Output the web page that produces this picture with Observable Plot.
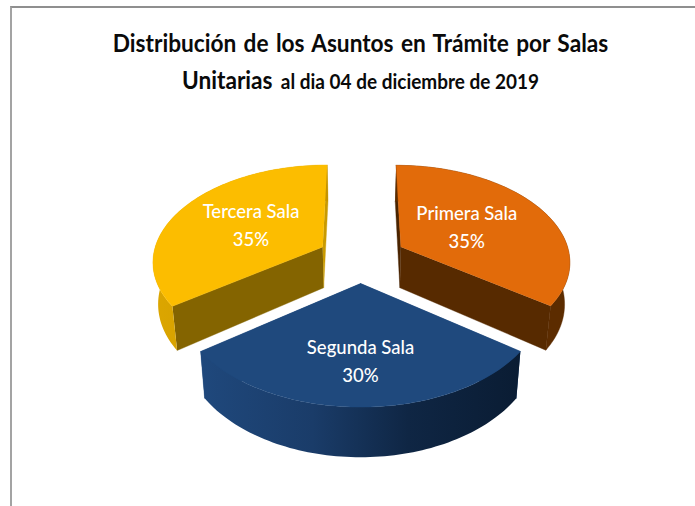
<!DOCTYPE html>
<html lang="es">
<head>
<meta charset="utf-8">
<script src="https://cdn.jsdelivr.net/npm/d3@7"></script>
<script src="https://cdn.jsdelivr.net/npm/@observablehq/plot@0.6"></script>
<style>
  html, body { margin: 0; padding: 0; background: #fff; overflow: hidden; }
  #frame { position: absolute; left: 10px; top: 6px; width: 685px; height: 500px; box-sizing: border-box;
           border-left: 2px solid #a3a3a3; border-top: 2px solid #8f8f8f; pointer-events: none; }
  #title { height: 100px; box-sizing: border-box; padding-top: 27px; padding-left: 26px; text-align: center;
           font-family: Lato, sans-serif; color: #0a0a0a; font-weight: 700; position: relative; }
  #title .l1 { font-size: 24.5px; line-height: 32px; word-spacing: 2px; transform: scaleX(0.925); white-space: nowrap; }
  #title .l2 { font-size: 24.5px; line-height: 32px; margin-top: 5px; transform: scaleX(0.925); white-space: nowrap; }
  #title .l2 small { font-size: 20.5px; font-weight: 700; margin-left: 3px; }
  #chart svg { display: block; }
</style>
</head>
<body>
<div id="frame"></div>
<div id="title">
  <div class="l1">Distribución de los Asuntos en Trámite por Salas</div>
  <div class="l2">Unitarias <small>al dia 04 de diciembre de 2019</small></div>
</div>
<div id="chart"></div>
<script>
// ---- Data ----
const salas = ["Primera Sala", "Segunda Sala", "Tercera Sala"];
const shares = [35, 30, 35];

// ---- Appearance ----
const topColors = ["#e26b0a", "#1f497d", "#fcbd00"];
const radialColors = ["#572a00", "#1f497d", "#846400"];
const arcFills = ["#5c2c00", "url(#segWall)", "url(#terWall)"];
const sliverColors = ["#4a2400", "#1f497d", "#c99a00"];

// Ground-plane displacement and radius of each exploded slice, and where its label sits along the bisector
const explode = [[0.235, -0.134], [0, 0.23], [-0.22, -0.134]];
const sliceRadius = [0.97, 1, 0.975];
const labelRadius = [0.45, 0.67, 0.49];

// Perspective view of the tilted disc
const view = {cx: 360, cy: 259.5, a: 175, b: 99, k: 0.14, depth: 41.5, shrink: 0.975};
const project = ([X, Y]) => {
  const w = 1 - view.k * Y;
  return {x: view.cx + view.a * X / w, y: view.cy + view.b * Y / w, w};
};
const lower = (p) => ({x: view.cx + (p.x - view.cx) * view.shrink, y: p.y + view.depth / p.w});

const polygon = (points, fill) =>
  Plot.line(points, {x: "x", y: "y", fill, stroke: fill.startsWith("url") ? "none" : fill, strokeWidth: 0.4, curve: "linear"});

// Angles come straight from the shares via d3.pie (clockwise from the back of the disc)
const arcs = d3.pie().sort(null)(shares);

const marks = [
  () => {
    const defs = d3.create("svg:defs");
    const gradient = (id, stops) => {
      const g = defs.append("linearGradient").attr("id", id).attr("x1", 0).attr("x2", 1).attr("y1", 0).attr("y2", 0);
      stops.forEach(([o, c]) => g.append("stop").attr("offset", o).attr("stop-color", c));
    };
    gradient("segWall", [[0, "#1f487c"], [0.35, "#1a3c69"], [0.65, "#0f2644"], [1, "#0a1c33"]]);
    gradient("terWall", [[0, "#dca600"], [1, "#c49300"]]);
    return defs.node();
  }
];
const labels = [];

arcs.forEach((arc, i) => {
  const [ox, oy] = explode[i];
  const ground = (r, t) => [ox + r * Math.sin(t), oy - r * Math.cos(t)];
  const span = d3.range(0, 81).map((n) => arc.startAngle + (arc.endAngle - arc.startAngle) * n / 80);
  const apex = project(ground(0, 0));
  const rim = span.map((t) => project(ground(sliceRadius[i], t)));
  const first = rim[0], last = rim[rim.length - 1];
  const wall = (pts) => [...pts, ...pts.map(lower).reverse()];

  // Walls, back to front, then the top face
  const edgeA = i === 0 ? sliverColors[i] : radialColors[i];
  const edgeB = i === 2 ? sliverColors[i] : radialColors[i];
  marks.push(polygon(wall([first, apex]), edgeA));
  marks.push(polygon(wall([apex, last]), edgeB));
  marks.push(polygon(wall(rim), arcFills[i]));
  marks.push(polygon([apex, ...rim], topColors[i]));

  const mid = (arc.startAngle + arc.endAngle) / 2;
  labels.push({...project(ground(labelRadius[i], mid)), name: salas[i], pct: `${shares[i]}%`});
});

const plot = Plot.plot({
  width: 695,
  height: 406,
  margin: 0,
  x: {domain: [0, 695], range: [0, 695], axis: null},
  y: {domain: [100, 506], range: [0, 406], axis: null},
  marks: [
    ...marks,
    Plot.text(labels, {x: "x", y: "y", text: "name", dy: -14, fill: "white", fontSize: 18.5, fontFamily: "Lato, sans-serif", fontWeight: 500}),
    Plot.text(labels, {x: "x", y: "y", text: "pct", dy: 14, fill: "white", fontSize: 18.5, fontFamily: "Lato, sans-serif", fontWeight: 500})
  ]
});
document.getElementById("chart").append(plot);
</script>
</body>
</html>
